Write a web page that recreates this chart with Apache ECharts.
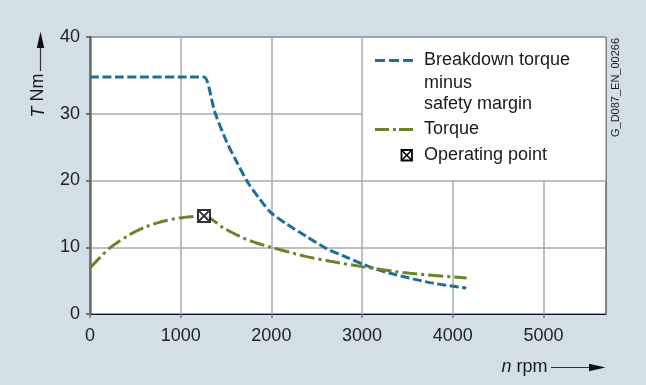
<!DOCTYPE html>
<html><head><meta charset="utf-8">
<script src="https://cdn.jsdelivr.net/npm/echarts@6/dist/echarts.min.js"></script>
<style>html,body{margin:0;padding:0;background:#d3dfe6;}#c{width:646px;height:385px;}</style>
</head><body><div id="c"></div>
<script>
// ---- data ----
const xTicks = [0, 1000, 2000, 3000, 4000, 5000];
const xTickLabels = ['0', '1000', '2000', '3000', '4000', '5000'];
const xMax = 5690;
const yTickValues = [0, 10, 20, 30, 41.5];
const yTickLabels = ['0', '10', '20', '30', '40'];
const yMax = 41.5;

const breakdownN = [0, 1180, 1257, 1378, 1507, 1617, 1746, 1874, 1995, 2168, 2388, 2609, 2830, 3000, 3180, 3308, 3749, 4150];
const breakdownT = [35.5, 35.5, 35.5, 30.2, 25.8, 22.8, 19.6, 17.2, 15.2, 13.5, 11.6, 9.8, 8.5, 7.5, 6.6, 6.1, 4.7, 3.9];

const torqueN = [0, 220, 441, 625, 808, 992, 1139, 1257, 1470, 1654, 1800, 1995, 2388, 2650, 3000, 3528, 4153];
const torqueT = [6.9, 9.9, 11.9, 13.1, 13.9, 14.4, 14.6, 14.7, 12.9, 11.6, 10.8, 10.0, 8.6, 7.9, 7.1, 6.1, 5.4];

const opN = [1257];
const opT = [14.7];

const seriesNames = ['Breakdown torque', 'Torque', 'Operating point'];
const breakdownLegendLines = ['Breakdown torque', 'minus', 'safety margin'];
const xName = ['n', 'rpm'];
const yName = ['T', 'Nm'];
const codeText = 'G_D087_EN_00266';

// ---- styles ----
const BLUE = '#1d6e98';
const GREEN = '#6b842c';
const FONT = 'Liberation Sans, Arial, sans-serif';
const FS = 18;

const zip = (a, b) => a.map((v, i) => [v, b[i]]);
const markerPath = 'path://M0,0 L10,0 L10,10 L0,10 Z M0,0 L10,10 M10,0 L0,10';

const chart = echarts.init(document.getElementById('c'), null, {renderer: 'canvas'});
chart.setOption({
  animation: false,
  backgroundColor: '#d3dfe6',
  grid: {left: 90, right: 40, top: 37, bottom: 71, show: true, backgroundColor: '#ffffff', borderColor: '#1a1a1a', borderWidth: 1},
  xAxis: {
    type: 'value', min: 0, max: xMax,
    axisLine: {lineStyle: {color: '#111', width: 1}},
    axisTick: {show: true, length: 4, customValues: xTicks, lineStyle: {color: '#777', width: 1.5}},
    axisLabel: {customValues: xTicks, fontSize: FS, fontFamily: FONT, color: '#222', margin: 13,
      formatter: v => { const i = xTicks.indexOf(v); return i >= 0 ? xTickLabels[i] : ''; }},
    splitLine: {show: true, lineStyle: {color: '#a9acaf', width: 1.5}}
  },
  yAxis: {
    type: 'value', min: 0, max: yMax,
    axisLine: {show: true, lineStyle: {color: '#6e6e6e', width: 2.5}},
    axisTick: {show: true, length: 4, customValues: yTickValues, lineStyle: {color: '#555', width: 1.5}},
    axisLabel: {customValues: yTickValues, fontSize: FS, fontFamily: FONT, color: '#222', margin: 10,
      formatter: v => { const i = yTickValues.indexOf(v); return i >= 0 ? yTickLabels[i] : ''; }},
    splitLine: {show: true, lineStyle: {color: '#a9acaf', width: 1.5}}
  },
  series: [
    {name: seriesNames[0], type: 'line', data: zip(breakdownN, breakdownT), symbol: 'none', smooth: 0.3,
     lineStyle: {color: BLUE, width: 3, type: [9, 3.5]}, z: 3},
    {name: seriesNames[1], type: 'line', data: zip(torqueN, torqueT), symbol: 'none', smooth: 0.3,
     lineStyle: {color: GREEN, width: 3, type: [15, 4, 3, 4]}, z: 3},
    {name: seriesNames[2], type: 'scatter', data: zip(opN, opT), symbol: markerPath, symbolSize: 12,
     itemStyle: {color: '#ffffff', borderColor: '#000', borderWidth: 2}, z: 5}
  ]
});

// legend box and decorations
const p0 = chart.convertToPixel({gridIndex: 0}, [3000, yMax]);
const p1 = chart.convertToPixel({gridIndex: 0}, [xMax, 20]);
function txt(text, x, y) {
  return {type: 'text', x: x, y: y, z: 20, style: {
    text: text, fill: '#1a1a1a', fontSize: FS, fontFamily: FONT,
    align: 'left', textAlign: 'left', verticalAlign: 'middle', textVerticalAlign: 'middle'}};
}
const lx = 424;
chart.setOption({
  graphic: {elements: [
    {type: 'rect', z: 10, shape: {x: p0[0] + 1, y: p0[1] + 1, width: p1[0] - p0[0] - 1.5, height: p1[1] - p0[1] - 1.5}, style: {fill: '#fff'}},
    {type: 'line', z: 20, shape: {x1: 375, y1: 60.5, x2: 413, y2: 60.5}, style: {stroke: BLUE, lineWidth: 3, lineDash: [10, 4]}},
    txt(breakdownLegendLines[0], lx, 60.5),
    txt(breakdownLegendLines[1], lx, 82.8),
    txt(breakdownLegendLines[2], lx, 104.5),
    {type: 'line', z: 20, shape: {x1: 375, y1: 129.5, x2: 413, y2: 129.5}, style: {stroke: GREEN, lineWidth: 3, lineDash: [14, 4, 3, 3]}},
    txt(seriesNames[1], lx, 129.5),
    {type: 'group', z: 20, x: 401.5, y: 150, children: [
      {type: 'rect', z: 20, shape: {x: 0, y: 0, width: 10.5, height: 10.5}, style: {fill: '#fff', stroke: '#000', lineWidth: 1.8}},
      {type: 'line', z: 20, shape: {x1: 0, y1: 0, x2: 10.5, y2: 10.5}, style: {stroke: '#000', lineWidth: 1.6}},
      {type: 'line', z: 20, shape: {x1: 10.5, y1: 0, x2: 0, y2: 10.5}, style: {stroke: '#000', lineWidth: 1.6}}
    ]},
    txt(seriesNames[2], lx, 155.2),
    // y axis name + arrow
    {type: 'text', z: 20, x: 38.5, y: 95.5, rotation: Math.PI / 2, style: {
      text: '{i|' + yName[0] + '} ' + yName[1], fill: '#1a1a1a', fontSize: FS, fontFamily: FONT,
      align: 'center', textAlign: 'center', verticalAlign: 'middle', textVerticalAlign: 'middle',
      rich: {i: {fontStyle: 'italic', fontSize: FS, fontFamily: FONT, fill: '#1a1a1a'}}}},
    {type: 'line', z: 20, shape: {x1: 40.5, y1: 71, x2: 40.5, y2: 46}, style: {stroke: '#333', lineWidth: 1.2}},
    {type: 'polygon', z: 20, shape: {points: [[40.5, 31.5], [36.8, 48], [44.2, 48]]}, style: {fill: '#111'}},
    // x axis name + arrow
    {type: 'text', z: 20, x: 547.5, y: 367, style: {
      text: '{i|' + xName[0] + '} ' + xName[1], fill: '#1a1a1a', fontSize: FS, fontFamily: FONT,
      align: 'right', textAlign: 'right', verticalAlign: 'middle', textVerticalAlign: 'middle',
      rich: {i: {fontStyle: 'italic', fontSize: FS, fontFamily: FONT, fill: '#1a1a1a'}}}},
    {type: 'line', z: 20, shape: {x1: 551, y1: 367.5, x2: 591, y2: 367.5}, style: {stroke: '#333', lineWidth: 1.2}},
    {type: 'polygon', z: 20, shape: {points: [[605.5, 367.5], [589, 363.8], [589, 371.2]]}, style: {fill: '#111'}},
    // figure code
    {type: 'text', z: 20, x: 615.5, y: 87.5, rotation: Math.PI / 2, style: {
      text: codeText, fill: '#222', fontSize: 11, fontFamily: FONT,
      align: 'center', textAlign: 'center', verticalAlign: 'middle', textVerticalAlign: 'middle'}}
  ]}
});
</script></body></html>
